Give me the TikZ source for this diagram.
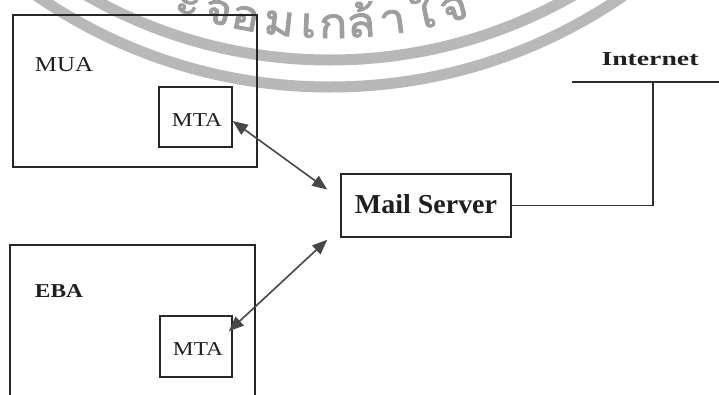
\documentclass[tikz,border=0pt]{standalone}
\usepackage{fontspec}
\usepackage{graphicx}
\setmainfont{Liberation Serif}
\newfontfamily\thaiwm[Script=Thai,FakeBold=2,FakeStretch=1.12]{Loma}
\usetikzlibrary{arrows.meta,calc}
% squeeze a label into a given width and cap height (in pt)
\newcommand{\fitlabel}[3]{\resizebox{#1pt}{#2pt}{#3}}

\begin{document}
\begin{tikzpicture}[x=1pt,y=1pt,
  box/.style={draw=black!85, line width=1.5pt, inner sep=0pt},
  lbl/.style={inner sep=0pt, text=black!88},
  link/.style={draw=black!82, line width=1.5pt},
  dbl/.style={draw=black!72, line width=1.6pt,
    {Triangle[length=15pt,width=12pt]}-{Triangle[length=15pt,width=12pt]}},
  ring/.style={draw=black!28, line width=11pt},
  wmchar/.style={anchor=base, inner sep=0pt, text=black!38,
    font=\thaiwm\fontsize{42}{42}\selectfont},
]
\useasboundingbox (0,0) rectangle (719,-394);
\fill[white] (0,0) rectangle (719,-394);

% faint seal in the background
\begin{scope}
  \clip (0,0) rectangle (719,-394);
  \coordinate (wc) at (330,430);
  \draw[ring] (wc) circle[radius=490];
  \draw[ring] (wc) circle[radius=517];
  \foreach \t/\ch in {-18.1/ะ,-14.2/จ,-10.7/อ,-6.4/ม,-2.7/เ,0.4/ก,3.9/ล้,7.9/า,11.8/ใ,15.8/จ}
    \path (wc) ++(-90+\t:468) node[wmchar, rotate=\t] {\ch};
\end{scope}

% user agent with its transfer agent
\node[box, minimum width=244, minimum height=152] (mua) at (135,-91) {};
\node[lbl] (mualbl) at (64,-65) {\fitlabel{58}{14}{MUA}};
\node[box, minimum width=73, minimum height=60] (mta1) at (195.5,-117) {};
\node[lbl] (mta1lbl) at (197,-120) {\fitlabel{50}{13}{MTA}};

% second agent, running off the bottom edge
\node[box, minimum width=245, minimum height=160] (eba) at (132.5,-325) {};
\node[lbl] (ebalbl) at (59,-291.5) {\fitlabel{48}{13}{\bfseries EBA}};
\node[box, minimum width=72, minimum height=61] (mta2) at (196,-346.5) {};
\node[lbl] (mta2lbl) at (198,-348.5) {\fitlabel{50}{13}{MTA}};

% mail server
\node[box, minimum width=170, minimum height=63] (mail) at (426,-205.5) {};
\node[lbl] (maillbl) at (426,-204.5) {\fitlabel{142}{19}{\bfseries Mail Server}};

% internet backbone
\node[lbl] (inetlbl) at (650,-59) {\fitlabel{97}{13}{\bfseries Internet}};
\coordinate (inetL) at (572,-82);
\coordinate (inetR) at (719,-82);
\coordinate (inetJ) at (653,-82);
\draw[link] (inetL) -- (inetR);
\draw[link] (mail.east) -| (inetJ);

% two-way links between the transfer agents and the server
\draw[dbl] ([yshift=-4pt]mta1.east) -- ([xshift=-13pt,yshift=16pt]mail.west);
\draw[dbl] ([xshift=-4pt,yshift=-16pt]mta2.north east) -- ([xshift=-13pt,yshift=-2pt]mail.south west);
\end{tikzpicture}
\end{document}
